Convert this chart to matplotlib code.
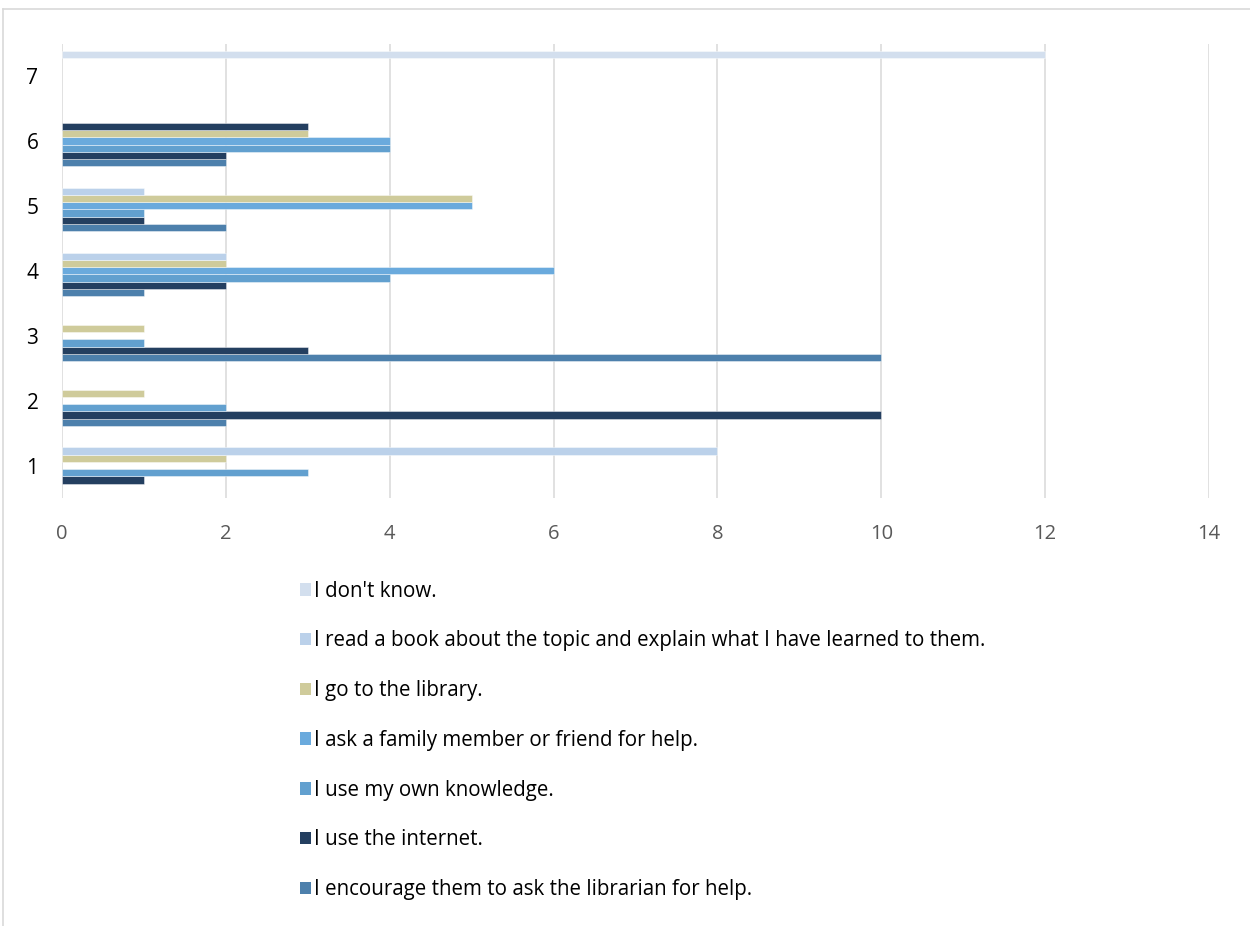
import matplotlib.pyplot as plt
from matplotlib.patches import Patch
from matplotlib.lines import Line2D

plt.rcParams['font.family'] = ['Open Sans', 'DejaVu Sans']

categories = ['1', '2', '3', '4', '5', '6', '7']

# series listed bottom-to-top inside each group
series_names = [
    'I encourage them to ask the librarian for help.',
    'I use the internet.',
    'I use my own knowledge.',
    'I ask a family member or friend for help.',
    'I go to the library.',
    'I read a book about the topic and explain what I have learned to them.',
    "I don't know.",
]
encourage = [0, 2, 10, 1, 2, 2, 0]
internet = [1, 10, 3, 2, 1, 2, 0]
own_knowledge = [3, 2, 1, 4, 1, 4, 0]
family = [0, 0, 0, 6, 5, 4, 0]
library = [2, 1, 1, 2, 5, 3, 0]
read_book = [8, 0, 0, 2, 1, 3, 0]
dont_know = [0, 0, 0, 0, 0, 0, 12]
series_values = [encourage, internet, own_knowledge, family, library, read_book, dont_know]

series_colors = ['#4d80ac', '#243f60', '#62a0cf', '#6aaadd', '#cfcb9b', '#bbd1ea', '#d3dfee']
# one point recoloured in the sheet: "read a book" for group 6
point_colors = {(5, 5): '#243f60'}

fig = plt.figure(figsize=(12.5, 9.26), dpi=100)
ax = fig.add_axes([0.0496, 0.4622, 0.9176, 0.4908])

n = len(series_values)
h = 0.78 / n
y_idx = range(len(categories))
for k, vals in enumerate(series_values):
    cols = [point_colors.get((k, i), series_colors[k]) for i in y_idx]
    lws = [0.6 if v > 0 else 0 for v in vals]
    ax.barh([i + (k - (n - 1) / 2) * h for i in y_idx], vals, height=h,
            color=cols, edgecolor=(1, 1, 1, 0.5), linewidth=lws, zorder=3)

ax.set_xlim(0, 14)
ax.set_ylim(-0.5, len(categories) - 0.5)
ax.set_xticks(range(0, 15, 2))
ax.set_yticks(list(y_idx))
ax.set_yticklabels(categories)
ax.grid(axis='x', color='#d9d9d9', linewidth=1.1, zorder=0)
ax.grid(axis='y', visible=False)
for s in ax.spines.values():
    s.set_visible(False)
ax.tick_params(axis='x', length=0, pad=19, labelsize=14.5, labelcolor='#595959')
ax.tick_params(axis='y', length=0, pad=17, labelsize=15, labelcolor='#000000')

# legend, top entry first
handles = [Patch(facecolor=series_colors[k], edgecolor='none') for k in reversed(range(n))]
labels = list(reversed(series_names))
fig.legend(handles, labels, loc='upper left', bbox_to_anchor=(0.24, 0.373),
           frameon=False, fontsize=14.8, handlelength=0.55, handleheight=0.55,
           handletextpad=0.15, labelspacing=1.40, borderpad=0, borderaxespad=0)

# thin outer frame, left and top edges
fig.add_artist(Line2D([0.0024, 0.0024], [0, 1 - 8.5 / 926], color='#d9d9d9', linewidth=1.2))
fig.add_artist(Line2D([0.0024, 1], [1 - 8.5 / 926, 1 - 8.5 / 926], color='#d9d9d9', linewidth=1.2))

plt.savefig('out.png', dpi=100)
